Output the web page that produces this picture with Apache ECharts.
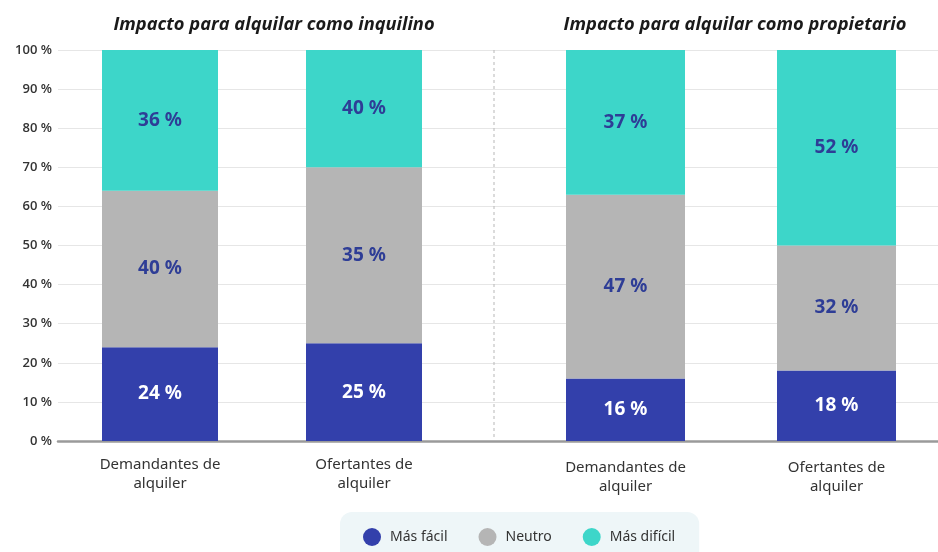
<!DOCTYPE html>
<html>
<head>
<meta charset="utf-8">
<script src="https://cdn.jsdelivr.net/npm/echarts@6/dist/echarts.min.js"></script>
<style>html,body{margin:0;padding:0;background:#fff;}#c{width:938px;height:552px;}</style>
</head>
<body>
<div id="c"></div>
<script>
const titles = ['Impacto para alquilar como inquilino', 'Impacto para alquilar como propietario'];
const catsLeft = ['Demandantes de\nalquiler', 'Ofertantes de\nalquiler'];
const catsRight = ['Demandantes de\nalquiler', 'Ofertantes de\nalquiler'];
const seriesNames = ['Más fácil', 'Neutro', 'Más difícil'];
const yTicks = [0, 10, 20, 30, 40, 50, 60, 70, 80, 90, 100];
// segment heights as drawn
const leftFacil = [24, 25];
const leftNeutro = [40, 45];
const leftDificil = [36, 30];
const rightFacil = [16, 18];
const rightNeutro = [47, 32];
const rightDificil = [37, 50];
// printed labels
const leftFacilLbl = [24, 25];
const leftNeutroLbl = [40, 35];
const leftDificilLbl = [36, 40];
const rightFacilLbl = [16, 18];
const rightNeutroLbl = [47, 32];
const rightDificilLbl = [37, 52];

const colors = ['#3340ab', '#b5b5b5', '#3dd6c9'];
const lblColors = ['#ffffff', '#2e3d96', '#2e3d96'];

const chart = echarts.init(document.getElementById('c'));
const gTop = 50, gBottom = 111;

function mkSeries(name, idx, data, lbls, axisIdx, bw) {
  return {
    name: name, type: 'bar', stack: 's' + axisIdx,
    xAxisIndex: axisIdx, yAxisIndex: axisIdx,
    barWidth: bw, data: data,
    itemStyle: { color: colors[idx] },
    label: {
      show: true, position: 'inside',
      formatter: p => lbls[p.dataIndex] + ' %',
      color: lblColors[idx], fontFamily: 'Noto Sans', fontWeight: 'bold', fontSize: 19
    },
    emphasis: { disabled: true }
  };
}

const xLabel = { color: '#333', fontFamily: 'Noto Sans', fontSize: 15, lineHeight: 19, margin: 14 };
const titleStyle = { fontFamily: 'Open Sans', fontStyle: 'italic', fontWeight: 'bold', fontSize: 18.3, color: '#1a1a1a' };

chart.setOption({
  animation: false,
  title: [
    { text: titles[0], left: 269, top: 11, textAlign: 'center', textStyle: titleStyle },
    { text: titles[1], left: 730, top: 11, textAlign: 'center', textStyle: titleStyle }
  ],
  legend: {
    data: seriesNames, left: 340, top: 512,
    backgroundColor: '#eef6f8', borderRadius: 12,
    padding: [16, 24, 18, 23], itemGap: 31,
    icon: 'circle', itemWidth: 18, itemHeight: 18,
    textStyle: { color: '#333', fontFamily: 'Noto Sans', fontSize: 14, padding: [0, 0, 0, 4] },
    selectedMode: false
  },
  grid: [
    { left: 58, right: 0, top: gTop, bottom: gBottom, outerBoundsMode: 'none' },
    { left: 58, width: 408, top: gTop, bottom: gBottom, outerBoundsMode: 'none' },
    { left: 520, width: 422, top: gTop, bottom: gBottom, outerBoundsMode: 'none' }
  ],
  xAxis: [
    { gridIndex: 0, type: 'category', data: [''], axisTick: { show: false }, axisLabel: { show: false },
      axisLine: { lineStyle: { color: '#9a9a9a', width: 2.5 } } },
    { gridIndex: 1, type: 'category', data: catsLeft, axisTick: { show: false }, axisLine: { show: false }, axisLabel: xLabel },
    { gridIndex: 2, type: 'category', data: catsRight, axisTick: { show: false }, axisLine: { show: false },
      axisLabel: Object.assign({}, xLabel, { margin: 17 }) }
  ],
  yAxis: [
    { gridIndex: 0, type: 'value', min: 0, max: 100, interval: 10,
      axisLabel: { formatter: v => yTicks.includes(v) ? v + ' %' : '', color: '#333', fontFamily: 'Open Sans', fontWeight: 600, fontSize: 13, margin: 6 },
      splitLine: { lineStyle: { color: '#e6e6e6', width: 1 } },
      axisLine: { show: false }, axisTick: { show: false } },
    { gridIndex: 1, type: 'value', min: 0, max: 100, show: false, splitLine: { show: false } },
    { gridIndex: 2, type: 'value', min: 0, max: 100, show: false, splitLine: { show: false } }
  ],
  graphic: [
    { type: 'line', shape: { x1: 494, y1: 50, x2: 494, y2: 440 },
      style: { stroke: '#b8b8b8', lineWidth: 1, lineDash: [3, 3] }, z: 1 }
  ],
  series: [
    mkSeries(seriesNames[0], 0, leftFacil, leftFacilLbl, 1, 116),
    mkSeries(seriesNames[1], 1, leftNeutro, leftNeutroLbl, 1, 116),
    mkSeries(seriesNames[2], 2, leftDificil, leftDificilLbl, 1, 116),
    mkSeries(seriesNames[0], 0, rightFacil, rightFacilLbl, 2, 119),
    mkSeries(seriesNames[1], 1, rightNeutro, rightNeutroLbl, 2, 119),
    mkSeries(seriesNames[2], 2, rightDificil, rightDificilLbl, 2, 119)
  ]
});
</script>
</body>
</html>
